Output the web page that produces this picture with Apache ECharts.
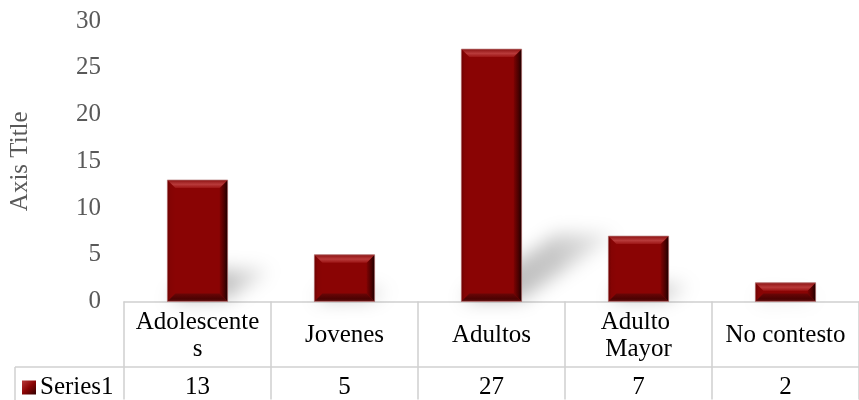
<!DOCTYPE html>
<html><head><meta charset="utf-8">
<script src="https://cdn.jsdelivr.net/npm/echarts@6/dist/echarts.min.js"></script>
<style>html,body{margin:0;padding:0;background:#fff}#c{width:859px;height:400px}</style>
</head><body><div id="c"></div>
<script>
// ---- data ----
const categories = ['Adolescentes', 'Jovenes', 'Adultos', 'Adulto Mayor', 'No contesto'];
const values = [13, 5, 27, 7, 2];
const seriesName = 'Series1';
const yMin = 0, yMax = 30, yStep = 5;
const axisTitle = 'Axis Title';

// ---- styling ----
const FONT = '"Liberation Serif", "Times New Roman", serif';
const FS = 25;
const GRID = '#d0d0d0';
const LG = echarts.graphic.LinearGradient;

const chart = echarts.init(document.getElementById('c'), null, { renderer: 'canvas' });

function shadowItem(params, api) {
  const idx = params.dataIndex;
  const v = api.value(1);
  const base = api.coord([idx, 0]);
  const top = api.coord([idx, v]);
  const bw = api.size([1, 0])[0] * 0.41;
  const x0 = base[0] - bw / 2, x1 = base[0] + bw / 2, yb = base[1];
  const h = yb - top[1];
  const dx = h * 0.38, dy = h * 0.27;
  const OFF = 4000;
  return {
    type: 'polygon',
    shape: { points: [[x0 - OFF, yb - 2], [x1 - OFF, yb - 2], [x1 + dx - OFF, yb - dy], [x0 + dx - OFF, yb - dy]] },
    style: {
      fill: new LG(0, 1, 1, 0, [
        { offset: 0, color: 'rgba(0,0,0,0.30)' },
        { offset: 0.6, color: 'rgba(0,0,0,0.22)' },
        { offset: 1, color: 'rgba(0,0,0,0.07)' }
      ]),
      shadowBlur: 18,
      shadowColor: 'rgba(0,0,0,1)',
      shadowOffsetX: OFF
    },
    silent: true
  };
}

function barItem(params, api) {
  const idx = params.dataIndex;
  const v = api.value(1);
  const base = api.coord([idx, 0]);
  const top = api.coord([idx, v]);
  const bw = api.size([1, 0])[0] * 0.41;
  const x0 = base[0] - bw / 2, x1 = base[0] + bw / 2, yb = base[1], yt = top[1];
  const h = yb - yt;
  const b = Math.min(8, h / 2);
  return {
    type: 'group',
    children: [
      { type: 'rect', shape: { x: x0, y: yt, width: bw, height: h }, style: { fill: '#8a0404' } },
      { type: 'polygon', shape: { points: [[x0, yt], [x0 + b, yt + b], [x0 + b, yb - b], [x0, yb]] },
        style: { fill: new LG(0, 0, 1, 0, [{ offset: 0, color: '#6e0202' }, { offset: 0.4, color: '#850404' }, { offset: 1, color: '#8a0404' }]) } },
      { type: 'polygon', shape: { points: [[x1, yt], [x1 - b, yt + b], [x1 - b, yb - b], [x1, yb]] },
        style: { fill: new LG(0, 0, 1, 0, [{ offset: 0, color: '#7e0303' }, { offset: 0.6, color: '#4a0101' }, { offset: 1, color: '#1c0000' }]) } },
      { type: 'polygon', shape: { points: [[x0, yt], [x1, yt], [x1 - b, yt + b], [x0 + b, yt + b]] },
        style: { fill: new LG(0, 0, 0, 1, [{ offset: 0, color: '#8c1212' }, { offset: 0.55, color: '#b83a3a' }, { offset: 1, color: '#9c1414' }]) } },
      { type: 'polygon', shape: { points: [[x0, yb], [x1, yb], [x1 - b, yb - b], [x0 + b, yb - b]] },
        style: { fill: new LG(0, 0, 0, 1, [{ offset: 0, color: '#6a0606' }, { offset: 0.7, color: '#4a0202' }, { offset: 1, color: '#6e1818' }]) } },
      { type: 'rect', shape: { x: x0, y: yt, width: bw, height: h },
        style: { fill: 'none', stroke: 'rgba(190,140,140,0.7)', lineWidth: 1 } }
    ]
  };
}

const barData = values.map((v, i) => [i, v]);

chart.setOption({
  animation: false,
  backgroundColor: '#fff',
  textStyle: { fontFamily: FONT },
  grid: { left: 124, right: 0, top: 21, bottom: 98 },
  legend: {
    data: [{ name: seriesName, icon: 'rect' }],
    left: 22, top: 375,
    itemWidth: 14, itemHeight: 14,
    selectedMode: false,
    padding: 0,
    textStyle: { fontFamily: FONT, fontSize: FS, color: '#000', padding: [0, 0, 0, -1] }
  },
  xAxis: [
    {
      type: 'category',
      data: categories,
      position: 'bottom',
      axisLine: { show: true, lineStyle: { color: GRID, width: 1.5 } },
      axisTick: { show: true, alignWithLabel: false, interval: 0, length: 98, lineStyle: { color: GRID, width: 1.5 } },
      axisLabel: {
        interval: 0, margin: 34, verticalAlign: 'middle',
        width: 128, overflow: 'break', lineHeight: 27,
        fontFamily: FONT, fontSize: FS, color: '#000'
      }
    },
    {
      type: 'category',
      data: values.map(String),
      position: 'bottom',
      axisLine: { show: false },
      axisTick: { show: false },
      axisLabel: { interval: 0, margin: 86, verticalAlign: 'middle', fontFamily: FONT, fontSize: FS, color: '#000' }
    }
  ],
  yAxis: {
    type: 'value',
    min: yMin, max: yMax, interval: yStep,
    name: axisTitle,
    nameLocation: 'middle',
    nameGap: 91,
    nameRotate: 90,
    nameTextStyle: { fontFamily: FONT, fontSize: FS, color: '#595959' },
    axisLine: { show: false },
    axisTick: { show: false },
    splitLine: { show: false },
    axisLabel: { margin: 23, fontFamily: FONT, fontSize: FS, color: '#595959' }
  },
  graphic: [
    { type: 'line', shape: { x1: 15, y1: 367, x2: 859, y2: 367 }, style: { stroke: GRID, lineWidth: 1.5 }, z: 100 },
    { type: 'line', shape: { x1: 15, y1: 367, x2: 15, y2: 400 }, style: { stroke: GRID, lineWidth: 1.5 }, z: 100 }
  ],
  series: [
    {
      type: 'custom', name: 'shadow', xAxisIndex: 0, yAxisIndex: 0,
      renderItem: shadowItem, data: barData, z: 1, silent: true
    },
    {
      type: 'custom', name: seriesName, xAxisIndex: 0, yAxisIndex: 0,
      renderItem: barItem, data: barData, z: 2,
      itemStyle: { color: new LG(0, 0, 1, 1, [{ offset: 0, color: '#b83a3a' }, { offset: 0.5, color: '#8a0404' }, { offset: 1, color: '#300000' }]) }
    }
  ]
});
</script>
</body></html>
